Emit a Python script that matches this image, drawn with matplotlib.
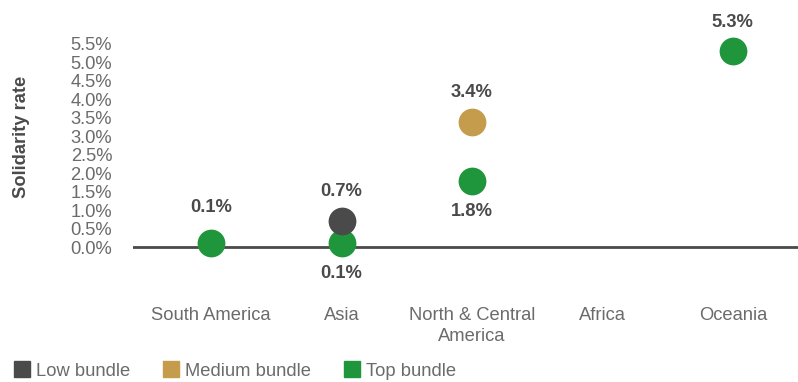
import numpy as np
import matplotlib
matplotlib.use("Agg")
import matplotlib.pyplot as plt
from matplotlib.lines import Line2D

plt.rcParams["font.family"] = ["Liberation Sans", "DejaVu Sans"]

regions = ["South America", "Asia", "North & Central\nAmerica", "Africa", "Oceania"]
low_bundle = [np.nan, 0.7, np.nan, np.nan, np.nan]
medium_bundle = [np.nan, np.nan, 3.4, np.nan, np.nan]
top_bundle = [0.1, 0.1, 1.8, np.nan, 5.3]
y_ticks = [0.0, 0.5, 1.0, 1.5, 2.0, 2.5, 3.0, 3.5, 4.0, 4.5, 5.0, 5.5]

COLORS = {"low": "#4a4a4a", "medium": "#c49c4c", "top": "#20963c"}
TEXT_DARK = "#4a4a4a"
TEXT_GRAY = "#6b6b6b"
FS = 13.2

# label offsets in points (above = positive)
label_offsets = {
    "low": [0, 21, 0, 0, 0],
    "medium": [0, 0, 21, 0, 0],
    "top": [26, -22, -22, 0, 21],
}

W, H = 798, 382
fig = plt.figure(figsize=(W / 100, H / 100), dpi=100)
ax = fig.add_axes([133 / W, 1 - 290 / H, 1 - 133 / W, 285 / H])

x = np.arange(len(regions))
series = [("top", top_bundle, 3), ("medium", medium_bundle, 4), ("low", low_bundle, 5)]
for key, vals, z in series:
    ax.scatter(x, vals, s=400, color=COLORS[key], zorder=z, linewidths=0)
    for i, v in enumerate(vals):
        if np.isnan(v):
            continue
        off = label_offsets[key][i]
        ax.annotate(f"{v:.1f}%", (i, v), xytext=(0, off), textcoords="offset points",
                    ha="center", va="center", fontsize=FS, fontweight="bold",
                    color=TEXT_DARK)

ax.axhline(0, color=TEXT_DARK, linewidth=2, zorder=2)

px = 5.5 / 203
ax.set_ylim(-43 * px, 5.5 + 39 * px)
ax.set_xlim(-0.6, 4.5)
ax.set_yticks(y_ticks)
ax.set_yticklabels([f"{t:.1f}%" for t in y_ticks], fontsize=FS, color=TEXT_GRAY)
ax.set_xticks(x)
ax.set_xticklabels(regions, fontsize=FS, color=TEXT_GRAY, linespacing=1.35)
ax.tick_params(axis="both", length=0)
ax.tick_params(axis="y", pad=15)
ax.tick_params(axis="x", pad=12)
for s in ax.spines.values():
    s.set_visible(False)

fig.text(22 / W, 1 - 137 / H, "Solidarity rate", rotation=90, ha="center", va="center",
         fontsize=FS, fontweight="bold", color=TEXT_DARK)

handles = [Line2D([], [], marker="s", linestyle="none", markersize=12,
                  color=COLORS[k]) for k in ("low", "medium", "top")]
fig.legend(handles, ["Low bundle", "Medium bundle", "Top bundle"], loc="lower left",
           bbox_to_anchor=(-6 / W, -14 / H), ncol=3, frameon=False, fontsize=FS,
           handletextpad=0.2, columnspacing=1.6, labelcolor=TEXT_GRAY, handlelength=1.2)

fig.savefig("out.png", dpi=100)
